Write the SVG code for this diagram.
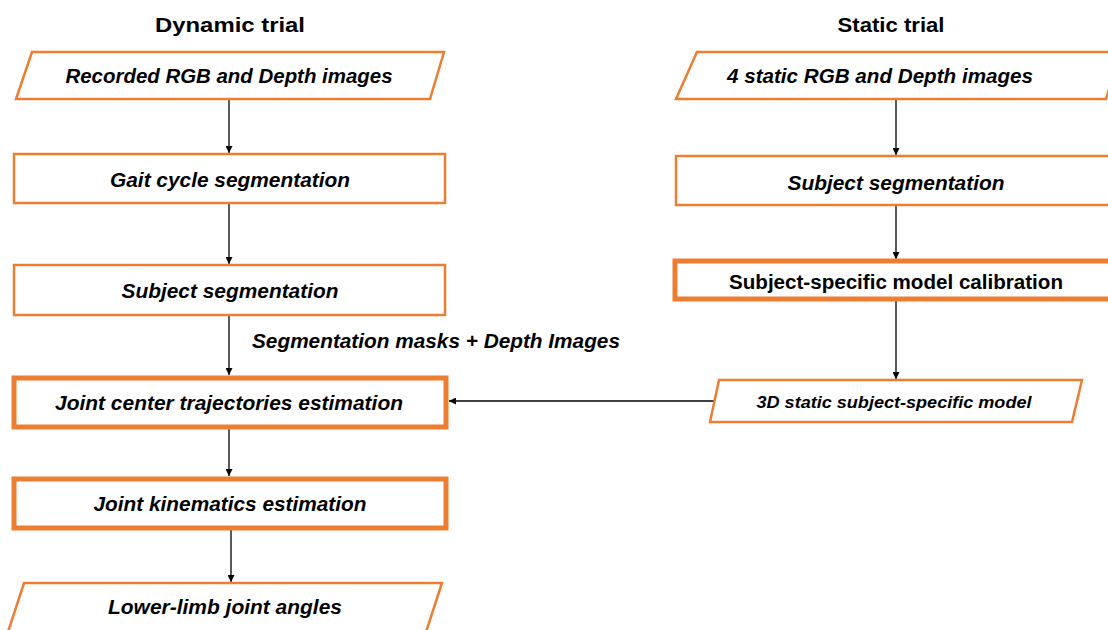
<svg xmlns="http://www.w3.org/2000/svg" width="1108" height="630" viewBox="0 0 1108 630">
<defs>
<marker id="ah" viewBox="0 0 10 10" refX="10" refY="5" markerWidth="7" markerHeight="7" markerUnits="userSpaceOnUse" orient="auto">
<path d="M0,0 L10,5 L0,10 z" fill="#000"/>
</marker>
<style>
.box{fill:#fff;stroke:#ED7D31;stroke-width:2.5}
.thick{fill:#fff;stroke:#ED7D31;stroke-width:5}
.t{font-family:"Liberation Sans",Arial,sans-serif;font-weight:bold;font-style:italic;font-size:20px;fill:#000;text-anchor:middle}
.n{font-family:"Liberation Sans",Arial,sans-serif;font-weight:bold;font-size:20px;fill:#000;text-anchor:middle}
.h{font-family:"Liberation Sans",Arial,sans-serif;font-weight:bold;font-size:21px;fill:#000;text-anchor:middle}
.c{stroke:#000;stroke-width:1.3;fill:none;marker-end:url(#ah)}
</style>
</defs>
<rect width="1108" height="630" fill="#fff"/>
<text class="h" x="230" y="32" textLength="150" lengthAdjust="spacingAndGlyphs">Dynamic trial</text>
<text class="h" x="891" y="32" textLength="107" lengthAdjust="spacingAndGlyphs">Static trial</text>
<g id="connectors">
<line class="c" x1="229" y1="99" x2="229" y2="153"/>
<line class="c" x1="229" y1="203" x2="229" y2="264"/>
<line class="c" x1="229" y1="315" x2="229" y2="375"/>
<line class="c" x1="229" y1="428" x2="229" y2="476"/>
<line class="c" x1="231" y1="530" x2="231" y2="582"/>
<line class="c" x1="896" y1="99" x2="896" y2="155"/>
<line class="c" x1="896" y1="205" x2="896" y2="259"/>
<line class="c" x1="896" y1="301" x2="896" y2="379"/>
<line class="c" x1="714" y1="401" x2="449" y2="401"/>
<text class="t" x="436" y="348" textLength="368" lengthAdjust="spacingAndGlyphs">Segmentation masks + Depth Images</text>
</g>
<g id="n1">
<polygon class="box" points="32,52 444,52 430,99 16,99"/>
<text class="t" x="229" y="83" textLength="327" lengthAdjust="spacingAndGlyphs">Recorded RGB and Depth images</text>
</g>
<g id="n2">
<rect class="box" x="14" y="154" width="431" height="49"/>
<text class="t" x="230" y="187" textLength="240" lengthAdjust="spacingAndGlyphs">Gait cycle segmentation</text>
</g>
<g id="n3">
<rect class="box" x="14" y="265" width="431" height="50"/>
<text class="t" x="230" y="298" textLength="217" lengthAdjust="spacingAndGlyphs">Subject segmentation</text>
</g>
<g id="n4">
<rect class="thick" x="14" y="378" width="432" height="49"/>
<text class="t" x="229" y="410" textLength="348" lengthAdjust="spacingAndGlyphs">Joint center trajectories estimation</text>
</g>
<g id="n5">
<rect class="thick" x="14" y="479" width="432" height="49"/>
<text class="t" x="230" y="511" textLength="273" lengthAdjust="spacingAndGlyphs">Joint kinematics estimation</text>
</g>
<g id="n6">
<polygon class="box" points="24,583 442,583 426,632 8,632"/>
<text class="t" x="225" y="614" textLength="234" lengthAdjust="spacingAndGlyphs">Lower-limb joint angles</text>
</g>
<g id="n7">
<polygon class="box" points="697,52 1120,52 1106,99 676,99"/>
<text class="t" x="880" y="83" textLength="306" lengthAdjust="spacingAndGlyphs">4 static RGB and Depth images</text>
</g>
<g id="n8">
<rect class="box" x="676" y="156" width="440" height="49"/>
<text class="t" x="896" y="190" textLength="217" lengthAdjust="spacingAndGlyphs">Subject segmentation</text>
</g>
<g id="n9">
<rect class="thick" x="675" y="261" width="440" height="38"/>
<text class="n" x="896" y="289" textLength="334" lengthAdjust="spacingAndGlyphs">Subject-specific model calibration</text>
</g>
<g id="n10">
<polygon class="box" points="719,380 1082,380 1072,422 710,422"/>
<text class="t" x="894" y="408" style="font-size:16px" textLength="275" lengthAdjust="spacingAndGlyphs">3D static subject-specific  model</text>
</g>
</svg>
